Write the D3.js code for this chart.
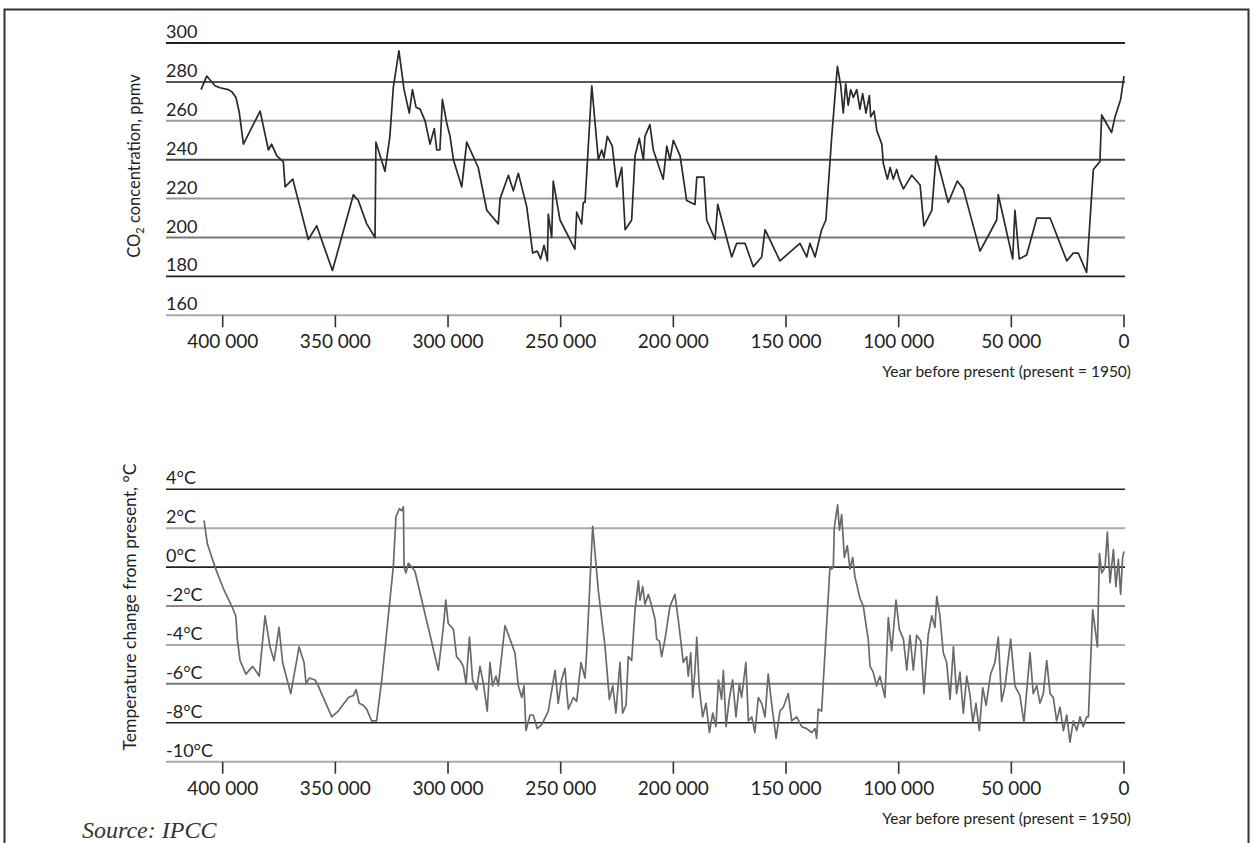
<!DOCTYPE html>
<html>
<head>
<meta charset="utf-8">
<script src="https://cdn.jsdelivr.net/npm/d3@7"></script>
<style>
  body { margin: 0; background: #fff; }
  svg text { font-family: Lato, "Open Sans", sans-serif; fill: #222; }
</style>
</head>
<body>
<div class="chart"></div>
<script>
const w = 1252;
const h = 843;

// data
const yearTicks = [400000, 350000, 300000, 250000, 200000, 150000, 100000, 50000, 0];
const co2Ticks = [300, 280, 260, 240, 220, 200, 180, 160];
const tempTicks = [4, 2, 0, -2, -4, -6, -8, -10];

const co2Years = [409600, 407100, 403400, 401200, 397500, 396000, 394100, 392600, 390800, 383400,
  379700, 378300, 376000, 373100, 372300, 368900, 362000, 358300, 351300, 342000,
  339800, 336100, 332400, 332000, 328000, 325800, 324300, 321800, 319500, 317200,
  315800, 314200, 312400, 310200, 308000, 306100, 305000, 303600, 302500, 300600,
  299100, 297600, 293900, 291700, 286600, 282800, 277700, 276900, 273200, 271000,
  268800, 265100, 262400, 260400, 258900, 257400, 255900, 255500, 254000, 253300,
  250300, 243700, 242900, 240700, 240000, 239200, 236200, 233300, 231800, 230800,
  229300, 227100, 225100, 222900, 221400, 218500, 217000, 215100, 213300, 212600,
  210400, 208900, 204500, 202900, 201500, 200000, 197000, 194100, 190400, 189600,
  186400, 185200, 181500, 180300, 174100, 171900, 168200, 164500, 160800, 159300,
  152700, 143800, 140800, 139400, 137100, 134200, 132300, 129700, 127200, 125700,
  124600, 123500, 122400, 121300, 120100, 118600, 117200, 116000, 114500, 113000,
  112400, 110900, 109700, 107500, 106800, 105000, 103800, 102400, 100900, 99700,
  97900, 94200, 90500, 88800, 85300, 83400, 78000, 74000, 71300, 63900,
  56500, 55800, 49400, 48400, 46500, 43200, 38700, 32800, 25400, 22500,
  20300, 16600, 13600, 10700, 9900, 5500, 4000, 1500, 0];
const co2Values = [276, 283, 278, 277, 276, 275, 272, 264, 248, 265,
  245, 248, 242, 239, 226, 230, 199, 206, 183, 222,
  219, 207, 200, 249, 234, 252, 277, 296, 276, 264,
  276, 267, 266, 260, 248, 256, 245, 245, 271, 259,
  252, 240, 226, 249, 236, 214, 207, 220, 232, 224,
  233, 216, 192, 193, 189, 196, 188, 212, 200, 229,
  209, 194, 213, 207, 218, 218, 278, 240, 245, 241,
  252, 247, 226, 236, 204, 209, 242, 251, 240, 252,
  258, 245, 230, 247, 240, 250, 242, 219, 217, 231,
  231, 209, 199, 217, 190, 197, 197, 185, 190, 204,
  188, 197, 190, 197, 190, 204, 209, 252, 288, 278,
  264, 279, 268, 276, 272, 276, 266, 274, 264, 273,
  262, 265, 255, 248, 238, 230, 236, 230, 235, 230,
  225, 232, 227, 206, 214, 242, 218, 229, 225, 193,
  209, 222, 189, 214, 189, 191, 210, 210, 188, 192,
  192, 182, 235, 239, 263, 254, 262, 271, 283];

const tempYears = [408300, 406800, 403400, 399700, 396000, 394200, 393500, 392300, 389700, 386700,
  383800, 381200, 379000, 377200, 375000, 373400, 369800, 366100, 363900, 363000,
  361600, 359000, 357600, 351600, 348700, 344200, 342000, 340800, 339400, 337600,
  336100, 333900, 331700, 329400, 324300, 323100, 321600, 320600, 319800, 319500,
  318700, 317600, 316100, 314700, 304300, 302100, 301000, 299900, 297600, 296200,
  294700, 293200, 292000, 290500, 289100, 287300, 285800, 284300, 282600, 281400,
  280200, 278700, 277700, 274700, 270300, 268800, 267300, 266300, 265400, 263600,
  262200, 260400, 258400, 255500, 252500, 251100, 249600, 248100, 247300, 246600,
  244400, 242900, 241000, 239200, 238500, 235800, 233300, 230300, 228400, 226900,
  225500, 223700, 222500, 221000, 220000, 218500, 217000, 215500, 214800, 213600,
  212600, 211100, 209600, 208100, 207400, 206200, 205200, 203700, 201500, 199300,
  197400, 195600, 194100, 193400, 192300, 191400, 190400, 189600, 188500, 187000,
  185500, 184000, 182500, 181100, 180000, 178600, 177800, 176600, 175200, 173700,
  172200, 170700, 169700, 167800, 166700, 165200, 163800, 162300, 160800, 159300,
  157900, 156400, 154400, 152700, 151200, 149000, 147500, 145300, 143000, 140800,
  138600, 137100, 136400, 135700, 134200, 130500, 129700, 129000, 128600, 127100,
  126300, 125300, 124100, 122800, 121600, 120400, 119400, 118400, 117200, 115700,
  114200, 113500, 112700, 111300, 109800, 108300, 106100, 104600, 103100, 101200,
  99700, 97900, 96400, 95000, 93500, 92000, 90200, 88800, 86900, 85300,
  83900, 83100, 81700, 80200, 78700, 77200, 75700, 74300, 72800, 71300,
  69800, 68300, 67100, 65700, 64200, 62700, 61200, 59200, 57300, 55800,
  54300, 52800, 50300, 48400, 46200, 44400, 41700, 40300, 38700, 37300,
  35800, 34300, 32800, 31400, 29900, 28400, 26900, 25400, 24000, 22500,
  21000, 19500, 18100, 16600, 15800, 13900, 11800, 10900, 9900, 8400,
  7400, 6200, 4700, 3600, 2500, 1500, 600, 0];
const tempValues = [2.4, 1.2, 0.0, -1.1, -2.0, -2.5, -3.7, -4.8, -5.5, -5.1,
  -5.6, -2.5, -4.1, -4.8, -3.1, -4.9, -6.5, -4.1, -4.9, -6.0,
  -5.7, -5.8, -6.1, -7.7, -7.4, -6.7, -6.6, -6.3, -7.0, -7.1,
  -7.3, -7.9, -7.9, -5.8, 0.0, 2.6, 3.0, 2.9, 3.1, 0.0,
  -0.3, 0.2, 0.0, -0.2, -5.3, -3.1, -1.7, -2.9, -3.2, -4.6,
  -4.8, -5.1, -6.0, -3.6, -5.8, -6.3, -5.1, -6.0, -7.4, -4.9,
  -6.1, -5.6, -6.1, -3.0, -4.4, -6.1, -6.7, -6.1, -8.4, -7.6,
  -7.6, -8.3, -8.1, -7.4, -5.3, -7.0, -5.8, -5.2, -6.4, -7.3,
  -6.7, -6.9, -4.9, -5.7, -4.4, 2.1, -1.2, -4.1, -6.8, -6.1,
  -7.5, -4.9, -7.5, -7.1, -4.6, -4.8, -2.2, -0.7, -1.7, -1.0,
  -1.9, -1.4, -2.0, -2.7, -3.7, -3.8, -4.6, -3.7, -2.0, -1.4,
  -3.1, -4.9, -4.6, -5.6, -4.4, -6.7, -5.3, -3.6, -6.2, -7.7,
  -7.0, -8.5, -7.5, -8.2, -5.8, -6.8, -5.3, -8.2, -6.8, -5.8,
  -7.7, -6.0, -6.7, -4.9, -7.9, -7.7, -8.5, -6.7, -7.0, -7.7,
  -5.5, -7.0, -8.8, -7.4, -7.2, -6.5, -7.9, -7.7, -8.2, -8.3,
  -8.5, -8.3, -8.8, -7.3, -7.4, 0.0, -0.1, 0.0, 2.0, 3.2,
  1.9, 2.7, 0.5, 1.1, -0.1, 0.5, -0.5, -1.0, -1.6, -2.0,
  -3.2, -3.7, -5.1, -5.4, -6.1, -5.6, -6.7, -2.6, -4.3, -1.7,
  -3.2, -3.7, -5.3, -3.5, -5.3, -3.5, -3.8, -6.5, -3.5, -2.5,
  -3.1, -1.5, -2.5, -4.4, -4.9, -6.8, -4.1, -6.5, -5.4, -7.5,
  -5.6, -6.6, -8.0, -7.0, -8.4, -6.2, -7.1, -5.5, -4.9, -3.6,
  -6.9, -6.1, -3.7, -6.1, -6.6, -8.0, -4.4, -6.5, -6.1, -7.0,
  -6.5, -4.8, -6.5, -6.7, -7.9, -7.2, -8.4, -7.6, -9.0, -7.9,
  -8.4, -7.7, -8.2, -7.7, -7.7, -2.2, -4.1, 0.7, -0.3, 0.0,
  1.8, -0.8, 0.9, -1.0, 0.4, -1.4, 0.5, 0.8];

const svg = d3.select(".chart")
  .append("svg")
  .attr("width", w)
  .attr("height", h);

// frame round the figure
svg.append("rect")
  .attr("x", 4.5)
  .attr("y", 9.5)
  .attr("width", 1244)
  .attr("height", 900)
  .attr("fill", "none")
  .attr("stroke", "#333")
  .attr("stroke-width", 2);

const x = d3.scaleLinear().domain([400000, 0]).range([222.7, 1124]);
const gridLeft = 166;
const gridRight = 1125;

function panel(cfg) {
  const y = d3.scaleLinear().domain(cfg.domain).range(cfg.range);
  const g = svg.append("g");

  g.selectAll("line.grid")
    .data(cfg.ticks)
    .enter().append("line")
    .attr("class", "grid")
    .attr("x1", gridLeft)
    .attr("x2", gridRight)
    .attr("y1", d => y(d))
    .attr("y2", d => y(d))
    .attr("stroke", (d, i) => cfg.gridColors[i])
    .attr("stroke-width", (d, i) => cfg.gridWidths[i]);

  g.selectAll("text.ylab")
    .data(cfg.ticks)
    .enter().append("text")
    .attr("class", "ylab")
    .attr("x", gridLeft)
    .attr("y", d => y(d) - 5)
    .attr("font-size", "18px")
    .text(cfg.fmt);

  // x ticks below the bottom gridline
  const base = y(cfg.domain[0]);
  g.selectAll("line.tick")
    .data(yearTicks)
    .enter().append("line")
    .attr("class", "tick")
    .attr("x1", d => x(d))
    .attr("x2", d => x(d))
    .attr("y1", base)
    .attr("y2", base + 12)
    .attr("stroke", "#333")
    .attr("stroke-width", 1.6);

  g.selectAll("text.xlab")
    .data(yearTicks)
    .enter().append("text")
    .attr("class", "xlab")
    .attr("x", d => x(d))
    .attr("y", base + 33)
    .attr("font-size", "19px")
    .style("text-anchor", "middle")
    .text(d => d3.format(",")(d).replace(/,/g, " "));

  g.append("text")
    .attr("x", 1131)
    .attr("y", base + 62)
    .attr("font-size", "15.5px")
    .style("text-anchor", "end")
    .text("Year before present (present = 1950)");

  const line = d3.line()
    .x(d => x(d[0]))
    .y(d => y(d[1]));

  g.append("path")
    .datum(d3.zip(cfg.years, cfg.values))
    .attr("d", line)
    .attr("fill", "none")
    .attr("stroke", cfg.lineColor)
    .attr("stroke-width", 1.7)
    .attr("stroke-linejoin", "round");

  const title = g.append("text")
    .attr("transform", "translate(" + cfg.titleX + "," + cfg.titleY + ") rotate(-90)")
    .attr("font-size", cfg.titleSize)
    .style("text-anchor", "middle");
  cfg.title(title);
}

panel({
  domain: [160, 300],
  range: [315.3, 43],
  ticks: co2Ticks,
  fmt: d => d,
  gridColors: ["#222", "#555", "#999", "#444", "#999", "#777", "#222", "#aaa"],
  gridWidths: [2, 2, 2, 2, 2, 2, 1.6, 2],
  years: co2Years,
  values: co2Values,
  lineColor: "#2a2a2a",
  titleX: 140,
  titleY: 166,
  titleSize: "16.5px",
  title: t => {
    t.append("tspan").text("CO");
    t.append("tspan").attr("font-size", "11px").attr("dy", 4).text("2");
    t.append("tspan").attr("dy", -4).text(" concentration, ppmv");
  }
});

panel({
  domain: [-10, 4],
  range: [761.7, 489.3],
  ticks: tempTicks,
  fmt: d => d + "°C",
  gridColors: ["#222", "#aaa", "#222", "#888", "#aaa", "#777", "#222", "#aaa"],
  gridWidths: [1.6, 2, 1.6, 2, 2, 2, 1.6, 2],
  years: tempYears,
  values: tempValues,
  lineColor: "#6a6a6a",
  titleX: 136,
  titleY: 607,
  titleSize: "17.5px",
  title: t => t.text("Temperature change from present, °C")
});

svg.append("text")
  .attr("x", 82)
  .attr("y", 838)
  .attr("font-size", "24px")
  .style("font-family", "'Liberation Serif', serif")
  .style("font-style", "italic")
  .style("fill", "#333")
  .text("Source: IPCC");
</script>
</body>
</html>
